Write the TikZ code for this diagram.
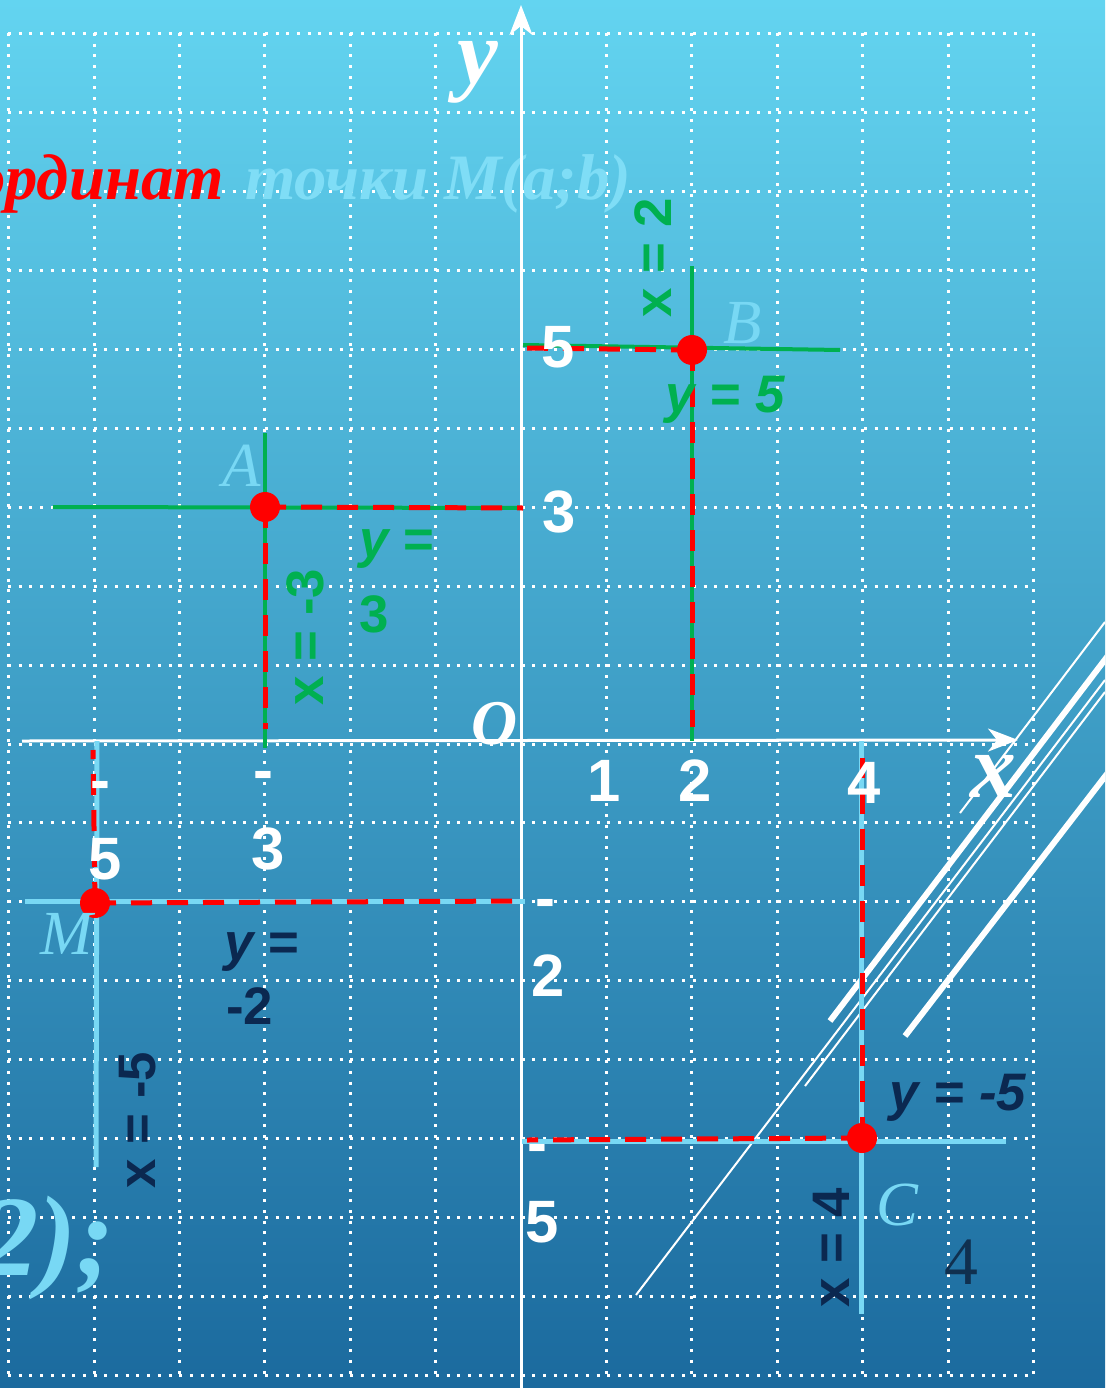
\documentclass[tikz,border=0pt]{standalone}
\usepackage{fontspec}
\setmainfont{Liberation Serif}
\newfontfamily\arialf{Liberation Sans}
\usetikzlibrary{arrows.meta}
\definecolor{bgtop}{HTML}{63D4F0}
\definecolor{bgmid}{HTML}{44A7D2}
\definecolor{bgbot}{HTML}{1B6A9E}
\definecolor{grn}{HTML}{00B050}
\definecolor{ltb}{HTML}{78D8F4}
\definecolor{navy}{HTML}{0B2850}
\definecolor{ttl}{HTML}{7FDDF6}
\definecolor{four}{HTML}{10304F}
\begin{document}
\begin{tikzpicture}[x=1bp,y=-1bp,
  griddot/.style={white, line width=3bp, dash pattern=on 3bp off 7.7bp},
  axisline/.style={white, line width=3bp, -{Stealth[length=30bp,width=23bp,inset=9bp]}},
  grnline/.style={grn, line width=4bp},
  ltbline/.style={ltb, line width=5bp},
  reddash/.style={red, line width=5bp, dash pattern=on 21bp off 15bp},
  ptdot/.style={circle, fill=red, minimum size=30bp, inner sep=0},
  tick/.style={text=white, font=\arialf\bfseries\fontsize{60}{60}\selectfont, inner sep=0, anchor=base},
  ptlab/.style={text=ltb, font=\itshape\fontsize{63}{63}\selectfont, inner sep=0, anchor=base},
  eqg/.style={text=grn, font=\arialf\bfseries\fontsize{53}{53}\selectfont, inner sep=0},
  eqn/.style={text=navy, font=\arialf\bfseries\fontsize{53}{53}\selectfont, inner sep=0},
  thinw/.style={white, line width=2bp},
  thickw/.style={white, line width=6bp},
  axlab/.style={text=white, font=\bfseries\itshape\fontsize{92}{92}\selectfont, inner sep=0, anchor=base},
]
\useasboundingbox (0,0) rectangle (1105,1388);
\clip (0,0) rectangle (1105,1388);
% background
\shade[top color=bgtop, middle color=bgmid, bottom color=bgbot] (0,0) rectangle (1105,1388);
% dotted grid
\foreach \k in {0,...,12} \draw[griddot] ({8.6+85.4*\k},33) -- ({8.6+85.4*\k},1376);
\foreach \k in {-8,...,9} \draw[griddot] (8,{744-78.9*\k}) -- (1033,{744-78.9*\k});
% title
\node[font=\bfseries\itshape\fontsize{65}{65}\selectfont, text=red, anchor=base east, inner sep=0] (t1) at (224,200) {ординат};
\node[font=\bfseries\itshape\fontsize{65}{65}\selectfont, text=ttl, anchor=base west, inner sep=0] (t2) at (245,200) {точки M(a;b)};
\node[font=\bfseries\itshape\fontsize{115}{115}\selectfont, text=ltb, anchor=base east, inner sep=0] (t3) at (115,1275) {2);};
% axes
\coordinate (xs) at (22,741); \coordinate (xe) at (1018,740);
\coordinate (ys) at (521,1388); \coordinate (ye) at (521,5);
\draw[axisline] (xs) -- (xe);
\draw[axisline] (ys) -- (ye);
% diagonal white strokes
\coordinate (d1a) at (636,1295); \coordinate (d1b) at (1105,680);
\coordinate (d2a) at (960,813);  \coordinate (d2b) at (1105,622);
\coordinate (d3a) at (830,1021); \coordinate (d3b) at (1110,653);
\coordinate (d4a) at (805,1086); \coordinate (d4b) at (1105,692);
\coordinate (d5a) at (905,1036); \coordinate (d5b) at (1110,770);
\draw[thinw] (d1a) -- (d1b);
\draw[thinw] (d2a) -- (d2b);
\draw[thickw] (d3a) -- (d3b);
\draw[thinw] (d4a) -- (d4b);
\draw[thickw] (d5a) -- (d5b);
% point A
\coordinate (A) at (265,507);
\coordinate (AgL) at (53,507); \coordinate (AgR) at (521,508);
\coordinate (AgT) at (265,433); \coordinate (AgB) at (265,748);
\coordinate (ArR) at (523,508); \coordinate (ArB) at (265,729);
\draw[grnline] (AgL) -- (AgR);
\draw[grnline] (AgT) -- (AgB);
\draw[reddash] (A) -- (ArR);
\draw[reddash] (A) -- (ArB);
% point B
\coordinate (B) at (692,350);
\coordinate (BgL) at (523,345); \coordinate (BgR) at (840,350);
\coordinate (BgT) at (692,266); \coordinate (BgB) at (692,741);
\coordinate (BrL) at (523,348); \coordinate (BrB) at (692,727);
\draw[grnline] (BgL) -- (BgR);
\draw[grnline] (BgT) -- (BgB);
\draw[reddash] (B) -- (BrL);
\draw[reddash] (B) -- (BrB);
% point C
\coordinate (C) at (862,1138);
\coordinate (CbL) at (522,1141); \coordinate (CbR) at (1006,1141);
\coordinate (CbT) at (861,741); \coordinate (CbB) at (861,1314);
\coordinate (CrL) at (527,1140); \coordinate (CrT) at (862,758);
\draw[ltbline] (CbL) -- (CbR);
\draw[ltbline] (CbT) -- (CbB);
\draw[reddash] (C) -- (CrL);
\draw[reddash] (C) -- (CrT);
% point M
\coordinate (M) at (95,903);
\coordinate (MbL) at (25,901); \coordinate (MbR) at (525,901);
\coordinate (MbT) at (97,741); \coordinate (MbB) at (96,1167);
\coordinate (MrR) at (525,901); \coordinate (MrT) at (93,750);
\draw[ltbline] (MbL) -- (MbR);
\draw[ltbline] (MbT) -- (MbB);
\draw[reddash] (M) -- (MrR);
\draw[reddash] (M) -- (MrT);
% red points
\node[ptdot] (Adot) at (A) {};
\node[ptdot] (Bdot) at (B) {};
\node[ptdot] (Cdot) at (C) {};
\node[ptdot] (Mdot) at (M) {};
% axis labels
\node[axlab] (ylab) at (478,84) {y};
\node[axlab] (xlab) at (993,797) {x};
\node[axlab, font=\bfseries\itshape\fontsize{64}{64}\selectfont] (olab) at (495,744) {O};
% tick labels
\node[tick] (n1) at (604,801) {1};
\node[tick] (n2) at (695,801) {2};
\node[tick] (n4) at (864,803) {4};
\node[tick] (p5) at (558,367) {5};
\node[tick] (p3) at (559,532) {3};
\node[tick] (m5xa) at (100,800) {-};
\node[tick] (m5xb) at (105,879) {5};
\node[tick] (m3xa) at (263,790) {-};
\node[tick] (m3xb) at (268,869) {3};
\node[tick] (m2ya) at (545,918) {-};
\node[tick] (m2yb) at (548,996) {2};
\node[tick] (m5ya) at (537,1163) {-};
\node[tick] (m5yb) at (542,1242) {5};
% point labels
\node[ptlab] (Alab) at (242,486) {A};
\node[ptlab] (Blab) at (743,343) {B};
\node[ptlab] (Clab) at (897,1225) {C};
\node[ptlab] (Mlab) at (67,954) {M};
% equations
\node[eqg, rotate=90] (ex2) at (653,258) {x = 2};
\node[eqg, anchor=base] (ey5) at (725,412) {\itshape y = 5};
\node[eqg, anchor=base west] (ey3a) at (359,557) {{\itshape y} =};
\node[eqg, anchor=base west] (ey3b) at (359,632) {3};
\node[eqg, rotate=90] (exm3) at (305,637) {x = -3};
\node[eqn, anchor=base west] (eym2a) at (224,960) {{\itshape y} =};
\node[eqn, anchor=base west] (eym2b) at (226,1024) {-2};
\node[eqn, rotate=90] (exm5) at (138,1120) {x = -5};
\node[eqn, anchor=base] (eym5) at (958,1110) {\itshape y = -5};
\node[eqn, rotate=90] (ex4) at (831,1248) {x = 4};
\node[text=four, font=\fontsize{68}{68}\selectfont, anchor=base, inner sep=0] (four4) at (961,1284) {4};
\end{tikzpicture}
\end{document}
